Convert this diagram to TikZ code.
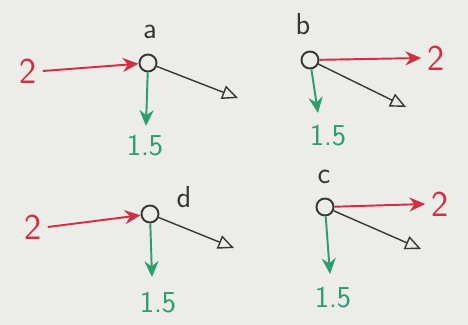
\documentclass[tikz,border=0pt]{standalone}
\usetikzlibrary{arrows.meta}
\definecolor{paper}{RGB}{236,236,233}
\definecolor{penred}{RGB}{208,48,68}
\definecolor{pengreen}{RGB}{44,158,108}
\definecolor{pengray}{RGB}{55,55,55}
\tikzset{
    vertex/.style={circle, draw=pengray, line width=1.1pt, minimum size=0.34cm, inner sep=0pt},
    letter/.style={text=pengray, font=\sffamily\LARGE},
    rednum/.style={text=penred, font=\sffamily\huge},
    greennum/.style={text=pengreen, font=\sffamily\LARGE},
    redarrow/.style={draw=penred, line width=1.1pt, -{Stealth[length=9pt, width=8pt]}},
    greenarrow/.style={draw=pengreen, line width=1.1pt, -{Stealth[length=9pt, width=8pt]}},
    grayarrow/.style={draw=pengray, line width=0.8pt, -{Triangle[open, length=9pt, width=8pt]}}
}
\begin{document}
\begin{tikzpicture}[x=0.02cm, y=-0.02cm]
    \fill [color=paper] (0, 0) rectangle (468, 325);

    % panel a
    \node[vertex] (a) at (148, 63) {};
    \node[letter] (labela) at (150, 32) {a};
    \node[rednum] (ina) at (28, 71) {2};
    \node[greennum] (flowa) at (145, 146) {1.5};
    \coordinate (tipa) at (146, 126);
    \coordinate (enda) at (238, 98);
    \draw[redarrow] (ina.east) -- (a);
    \draw[greenarrow] (a) -- (tipa);
    \draw[grayarrow] (a) -- (enda);

    % panel b
    \node[vertex] (b) at (310, 60) {};
    \node[letter] (labelb) at (303, 24) {b};
    \node[rednum] (outb) at (436, 58) {2};
    \node[greennum] (flowb) at (328, 136) {1.5};
    \coordinate (tipb) at (318, 113);
    \coordinate (endb) at (406, 107);
    \draw[redarrow] (b) -- (outb.west);
    \draw[greenarrow] (b) -- (tipb);
    \draw[grayarrow] (b) -- (endb);

    % panel d
    \node[vertex] (d) at (150, 214) {};
    \node[letter] (labeld) at (184, 197) {d};
    \node[rednum] (ind) at (33, 227) {2};
    \node[greennum] (flowd) at (158, 303) {1.5};
    \coordinate (tipd) at (152, 277);
    \coordinate (endd) at (234, 248);
    \draw[redarrow] (ind.east) -- (d);
    \draw[greenarrow] (d) -- (tipd);
    \draw[grayarrow] (d) -- (endd);

    % panel c
    \node[vertex] (c) at (325, 207) {};
    \node[letter] (labelc) at (324, 177) {c};
    \node[rednum] (outc) at (440, 204) {2};
    \node[greennum] (flowc) at (333, 298) {1.5};
    \coordinate (tipc) at (330, 274);
    \coordinate (endc) at (421, 249);
    \draw[redarrow] (c) -- (outc.west);
    \draw[greenarrow] (c) -- (tipc);
    \draw[grayarrow] (c) -- (endc);
\end{tikzpicture}
\end{document}
